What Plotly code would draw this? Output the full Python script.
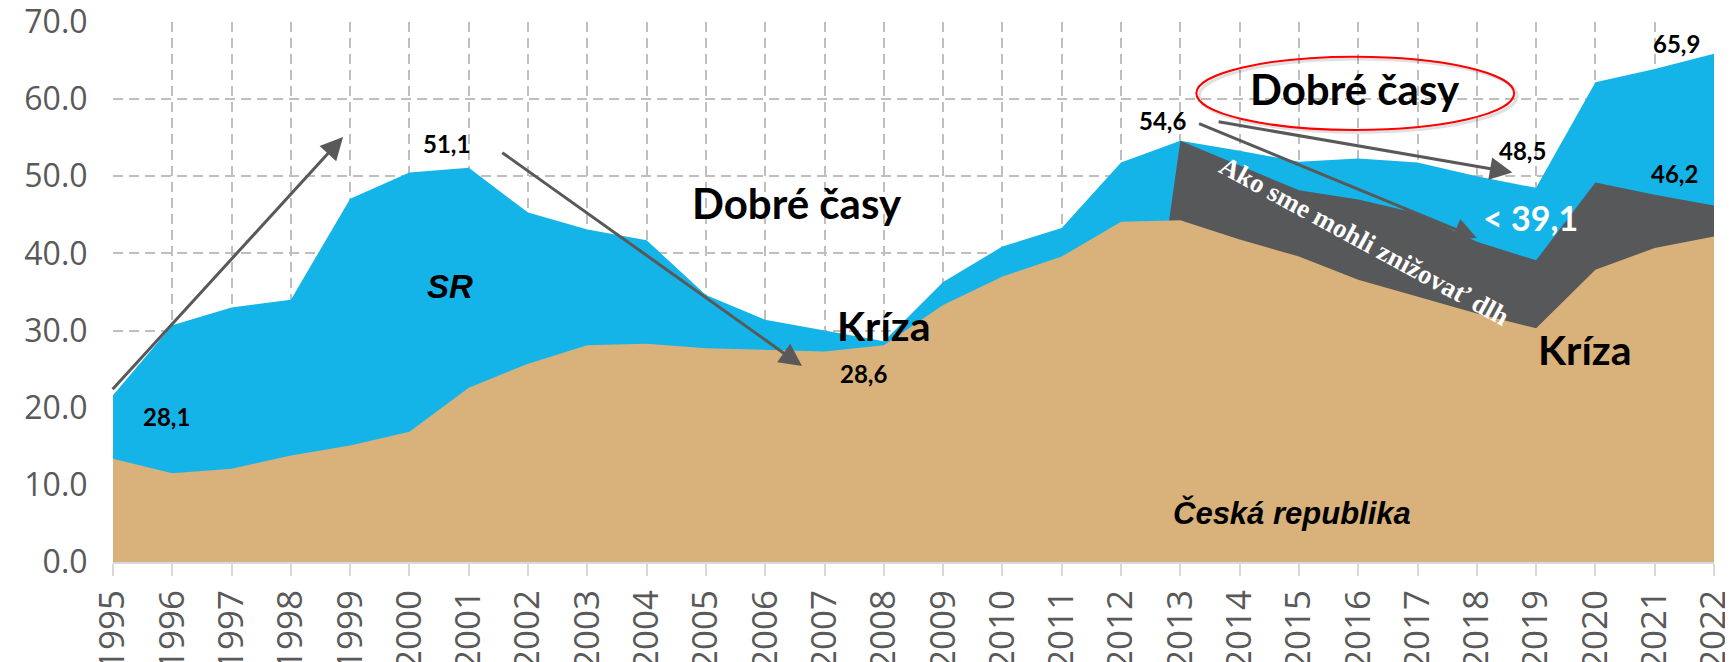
import plotly.graph_objects as go

# --- data -------------------------------------------------------------------
years = [1995, 1996, 1997, 1998, 1999, 2000, 2001, 2002, 2003, 2004, 2005, 2006, 2007, 2008,
         2009, 2010, 2011, 2012, 2013, 2014, 2015, 2016, 2017, 2018, 2019, 2020, 2021, 2022]

# dlh SR (% HDP)
debt_sk = [21.6, 30.7, 33.0, 34.0, 47.1, 50.5, 51.1, 45.3, 43.1, 41.7, 34.6, 31.4, 30.0, 28.6,
           36.3, 40.9, 43.3, 51.8, 54.6, 53.3, 51.9, 52.3, 51.8, 50.0, 48.5, 62.2, 63.9, 65.9]

# "Ako sme mohli znižovať dlh" - scenár od 2013
debt_alt = [0, 0, 0, 0, 0, 0, 0, 0, 0, 0, 0, 0, 0, 0,
            0, 0, 0, 0, 54.6, 51.4, 48.2, 47.0, 45.2, 41.5, 39.1, 49.2, 47.6, 46.2]

# dlh ČR (% HDP)
debt_cz = [13.4, 11.5, 12.1, 13.8, 15.1, 16.9, 22.6, 25.7, 28.1, 28.3, 27.7, 27.5, 27.3, 28.1,
           33.3, 37.0, 39.6, 44.1, 44.3, 41.8, 39.6, 36.6, 34.4, 32.2, 30.3, 37.9, 40.7, 42.2]

year_labels = [str(y) for y in years]

BLUE = "#14B4E8"
GRAY = "#57585A"
TAN = "#D9B17B"
ARROW = "#595959"
TICK = "#595959"

fig = go.Figure()
for vals, color in [(debt_sk, BLUE), (debt_alt, GRAY), (debt_cz, TAN)]:
    fig.add_trace(
        go.Scatter(
            x=years,
            y=vals,
            mode="lines",
            fill="tozeroy",
            fillcolor=color,
            line=dict(width=0, color=color),
            hoverinfo="skip",
            showlegend=False,
        )
    )

# --- texts ------------------------------------------------------------------
BOLD = "Lato"


def label(x, y, text, size, color="black", family=BOLD, bold=True, italic=False, angle=0):
    fig.add_annotation(
        x=x, y=y, text=f"<b>{text}</b>" if bold else text,
        showarrow=False, textangle=angle,
        font=dict(family=family, size=size, color=color, style="italic" if italic else "normal"),
    )


label(1995.91, 18.8, "28,1", 24)
label(2000.63, 54.3, "51,1", 24)
label(2000.69, 35.7, "SR", 33, family="Liberation Sans", italic=True)
label(2006.54, 46.5, "Dobré časy", 42)
label(2008.0, 30.6, "Kríza", 41)
label(2007.65, 24.5, "28,6", 24)
label(2012.70, 57.2, "54,6", 24)
label(2015.95, 61.3, "Dobré časy", 42)
label(2018.77, 53.3, "48,5", 24)
label(2021.37, 67.2, "65,9", 24)
label(2021.34, 50.3, "46,2", 24)
label(2018.90, 44.6, "&lt; 39,1", 34, color="white")
label(2019.82, 27.5, "Kríza", 41)
label(2014.88, 6.3, "Česká republika", 31, family="Liberation Sans", italic=True)
label(2016.10, 41.6, "Ako sme mohli znižovať dlh", 27, color="white",
      family="Liberation Serif", angle=28.5)

# --- arrows -----------------------------------------------------------------
arrows = [
    ((1994.97, 22.2), (1998.88, 55.1)),
    ((2001.54, 53.2), (2006.62, 25.4)),
    ((2013.29, 56.9), (2018.00, 42.0)),
    ((2013.62, 57.1), (2018.60, 50.5)),
]
for (ax, ay), (hx, hy) in arrows:
    fig.add_annotation(
        x=hx, y=hy, ax=ax, ay=ay, xref="x", yref="y", axref="x", ayref="y",
        text="", showarrow=True, arrowhead=2, arrowsize=1.5, arrowwidth=3,
        arrowcolor=ARROW, standoff=0, startstandoff=0,
    )

# ellipse around the second "Dobré časy"
fig.add_shape(type="circle", xref="x", yref="y", x0=2013.32, x1=2018.68, y0=55.7, y1=65.2,
              line=dict(color="rgba(0,0,0,0.12)", width=3), layer="above")
fig.add_shape(type="circle", xref="x", yref="y", x0=2013.27, x1=2018.63, y0=56.0, y1=65.5,
              line=dict(color="#FF0000", width=2), layer="above")

# the page body has an 8px margin, so the figure is 8px smaller than the window
fig.update_layout(
    width=1725,
    height=654,
    margin=dict(l=105, r=19, t=14, b=100),
    plot_bgcolor="white",
    paper_bgcolor="white",
    showlegend=False,
    xaxis=dict(
        range=[1995, 2022],
        tickvals=years,
        ticktext=year_labels,
        tickangle=-90,
        tickfont=dict(family="Open Sans", size=35, color=TICK),
        showgrid=True,
        gridcolor="#BFBFBF",
        gridwidth=1.5,
        griddash="10px,6px",
        ticks="outside",
        ticklen=12,
        tickwidth=2,
        tickcolor="#D9D9D9",
        showline=True,
        linecolor="#D9D9D9",
        linewidth=2,
        zeroline=False,
        automargin=False,
        ticklabelstandoff=0,
        ticklabeloverflow="allow",
    ),
    yaxis=dict(
        range=[0, 70],
        dtick=10,
        tickformat=".1f",
        tickfont=dict(family="Open Sans", size=32, color=TICK),
        showgrid=True,
        gridcolor="#BFBFBF",
        gridwidth=1.5,
        griddash="10px,6px",
        ticks="outside",
        ticklen=18,
        tickcolor="rgba(0,0,0,0)",
        showline=False,
        zeroline=False,
        automargin=False,
        ticklabeloverflow="allow",
    ),
)

fig.write_html("out.html")
